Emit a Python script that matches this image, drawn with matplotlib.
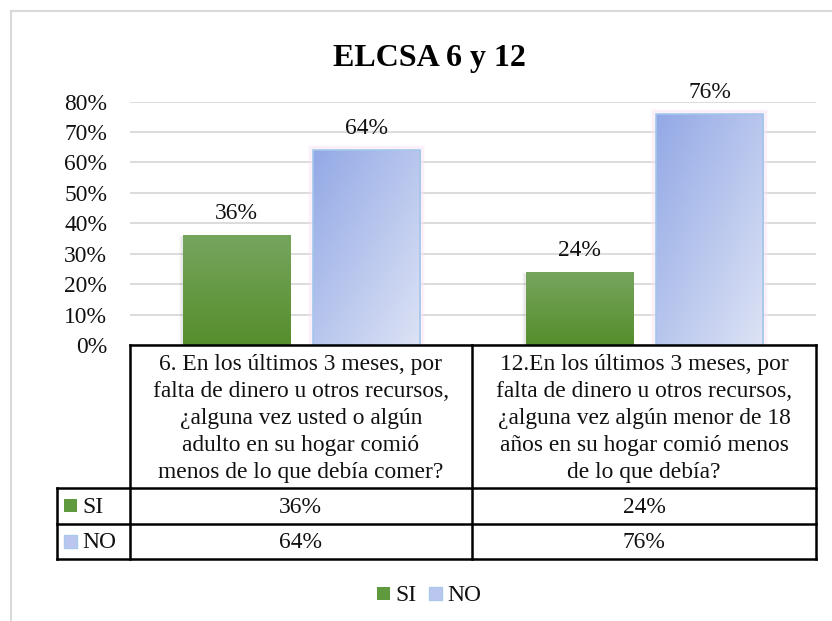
import matplotlib
matplotlib.use('Agg')
import matplotlib.pyplot as plt
from matplotlib.patches import Rectangle
from matplotlib.lines import Line2D
from matplotlib.colors import LinearSegmentedColormap
import numpy as np

# ---------------- data ----------------
title = "ELCSA 6 y 12"
series_names = ["SI", "NO"]
category_lines = [
    ["6. En los últimos 3 meses, por",
     "falta de dinero u otros recursos,",
     "¿alguna vez usted o algún",
     "adulto en su hogar comió",
     "menos de lo que debía comer?"],
    ["12.En los últimos 3 meses, por",
     "falta de dinero u otros recursos,",
     "¿alguna vez algún menor de 18",
     "años en su hogar comió menos",
     "de lo que debía?"],
]
si_values = [0.36, 0.24]
no_values = [0.64, 0.76]
yticks = [0.0, 0.1, 0.2, 0.3, 0.4, 0.5, 0.6, 0.7, 0.8]
ytick_labels = ["0%", "10%", "20%", "30%", "40%", "50%", "60%", "70%", "80%"]

# ---------------- style ----------------
plt.rcParams['font.family'] = ['Liberation Serif', 'DejaVu Serif']
FS = 16.9
W, H = 832, 621
fig = plt.figure(figsize=(W / 100, H / 100), dpi=100)
fig.patch.set_facecolor('white')


def fx(x):
    return x / W


def fy(y):
    return 1 - y / H


AX_L, AX_R, AX_T, AX_B = 130, 816, 101.5, 345
ax = fig.add_axes([fx(AX_L), fy(AX_B), (AX_R - AX_L) / W, (AX_B - AX_T) / H])
ax.set_facecolor('none')
for s in ax.spines.values():
    s.set_visible(False)

n = len(si_values)
xpx = 2.0 / (AX_R - AX_L)      # data units per pixel (x)
ypx = 0.8 / (AX_B - AX_T)      # data units per pixel (y)

bar_w = 0.312
off = 0.19

green_cmap = LinearSegmentedColormap.from_list('g', ['#76A55E', '#568E2C'])
blue_cmap = LinearSegmentedColormap.from_list('b', ['#93A9E6', '#DDE3F5'])

vg = np.linspace(0, 1, 200).reshape(-1, 1)
ii, jj = np.meshgrid(np.linspace(0, 1, 100), np.linspace(0, 1, 200))
dg = (ii + jj) / 2.0

for i in range(n):
    # SI bar (green vertical gradient + soft shadow)
    x0 = i - off - bar_w / 2
    v = si_values[i]
    for k, a in zip([4, 3, 2], [0.03, 0.05, 0.07]):
        ax.add_patch(Rectangle((x0 - k * xpx, -2 * ypx), bar_w + (k - 1) * xpx, v + (k - 2) * ypx,
                               facecolor='#666666', edgecolor='none', alpha=a, zorder=2))
    rect = Rectangle((x0, 0), bar_w, v, facecolor='none', edgecolor='none', zorder=3)
    ax.add_patch(rect)
    im = ax.imshow(vg, extent=(x0, x0 + bar_w, 0, v), aspect='auto', cmap=green_cmap,
                   origin='upper', zorder=3, interpolation='bilinear')
    im.set_clip_path(rect)
    ax.text(i - off, v + 16 * ypx, f"{round(v * 100)}%", ha='center', va='baseline',
            fontsize=FS, color='#111111', zorder=5)

    # NO bar (blue diagonal gradient + pink glow)
    x1 = i + off - bar_w / 2
    v = no_values[i]
    for k, a in zip([4, 3, 2], [0.25, 0.4, 0.55]):
        ax.add_patch(Rectangle((x1 - k * xpx, 0), bar_w + 2 * k * xpx, v + k * ypx,
                               facecolor='none', edgecolor='#F9E4F6', lw=1.2, alpha=a, zorder=2.5))
    rect2 = Rectangle((x1, 0), bar_w, v, facecolor='none', edgecolor='#A3C6EA', lw=1.2, zorder=4)
    ax.add_patch(rect2)
    im2 = ax.imshow(dg, extent=(x1, x1 + bar_w, 0, v), aspect='auto', cmap=blue_cmap,
                    origin='upper', zorder=3, interpolation='bilinear')
    im2.set_clip_path(rect2)
    ax.text(i + off, v + 16 * ypx, f"{round(v * 100)}%", ha='center', va='baseline',
            fontsize=FS, color='#111111', zorder=5)

ax.set_xlim(-0.5, n - 0.5)
ax.set_ylim(0, 0.8)
ax.set_xticks([])
ax.set_yticks(yticks)
ax.set_yticklabels(ytick_labels, fontsize=FS, color='#111111')
ax.tick_params(axis='y', length=0, pad=16.5)
ax.yaxis.grid(True, color='#D9D9D9', lw=1.3)
ax.set_axisbelow(True)

# ---------------- title ----------------
fig.text(fx(429), fy(66), title, ha='center', va='baseline', fontsize=23,
         fontweight='bold', color='#000000')

# ---------------- chart frame ----------------
fc = '#D9D9D9'
fig.add_artist(Line2D([fx(11), fx(11)], [fy(11), fy(H + 5)], color=fc, lw=1.5,
                      transform=fig.transFigure))
fig.add_artist(Line2D([fx(11), fx(W + 5)], [fy(11), fy(11)], color=fc, lw=1.5,
                      transform=fig.transFigure))

# ---------------- data table ----------------
T_TOP, R1, R2, T_BOT = 344.5, 488, 523.5, 559
C0, C1, C2, C3 = 57, 129.5, 472, 816
lw = 1.8


def hline(y, a, b):
    fig.add_artist(Line2D([fx(a), fx(b)], [fy(y), fy(y)], color='black', lw=lw,
                          transform=fig.transFigure, zorder=10))


def vline(x, a, b):
    fig.add_artist(Line2D([fx(x), fx(x)], [fy(a), fy(b)], color='black', lw=lw,
                          transform=fig.transFigure, zorder=10))


hline(T_TOP, C1, C3)
hline(R1, C0, C3)
hline(R2, C0, C3)
hline(T_BOT, C0, C3)
vline(C0, R1, T_BOT)
vline(C1, T_TOP, T_BOT)
vline(C2, T_TOP, T_BOT)
vline(C3, T_TOP, T_BOT)

col_centers = [(C1 + C2) / 2, (C2 + C3) / 2]
for ci, lines in enumerate(category_lines):
    for k, line in enumerate(lines):
        fig.text(fx(col_centers[ci]), fy(370 + 27 * k), line, ha='center', va='baseline',
                 fontsize=FS, color='#111111')
    fig.text(fx(col_centers[ci]), fy(513), f"{round(si_values[ci] * 100)}%", ha='center',
             va='baseline', fontsize=FS, color='#111111')
    fig.text(fx(col_centers[ci]), fy(548.5), f"{round(no_values[ci] * 100)}%", ha='center',
             va='baseline', fontsize=FS, color='#111111')


def key(xp, ytop, which):
    if which == 0:
        p = Rectangle((fx(xp), fy(ytop + 13)), 13 / W, 13 / H, facecolor='#609A3E',
                      edgecolor='none', transform=fig.transFigure)
    else:
        p = Rectangle((fx(xp), fy(ytop + 13)), 13 / W, 13 / H, facecolor='#BAC6EE',
                      edgecolor='#A9C8EA', lw=1.0, transform=fig.transFigure)
    fig.add_artist(p)


key(64, 499, 0)
fig.text(fx(82), fy(513), series_names[0], ha='left', va='baseline', fontsize=FS, color='#111111')
key(64, 534.5, 1)
fig.text(fx(82), fy(548.5), series_names[1], ha='left', va='baseline', fontsize=FS, color='#111111')

# ---------------- legend ----------------
key(377, 587, 0)
fig.text(fx(395), fy(601), series_names[0], ha='left', va='baseline', fontsize=FS, color='#111111')
key(429, 587, 1)
fig.text(fx(447), fy(601), series_names[1], ha='left', va='baseline', fontsize=FS, color='#111111')

fig.savefig('out.png', dpi=100, facecolor='white')
